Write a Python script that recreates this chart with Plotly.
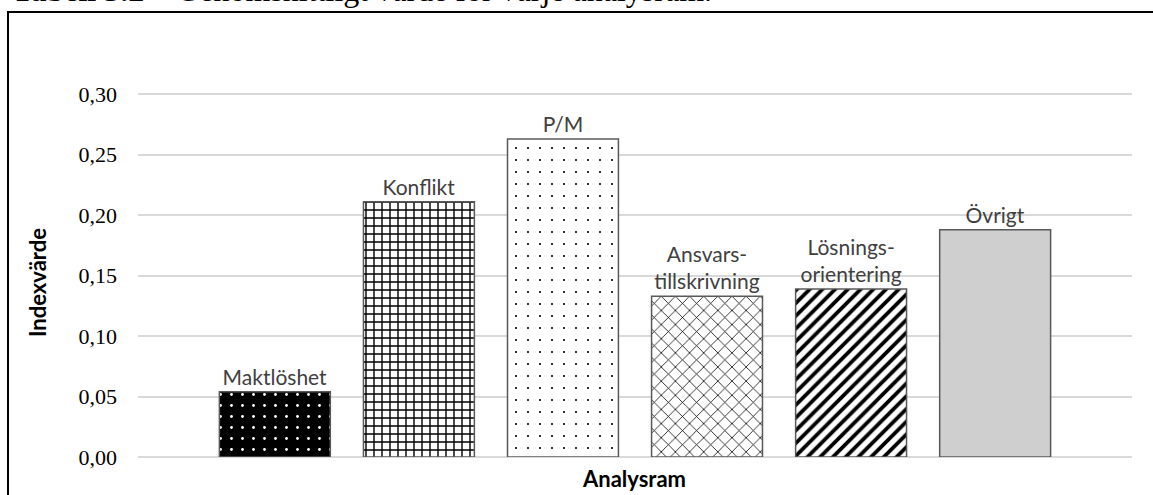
import plotly.graph_objects as go

# --- data -------------------------------------------------------------
categories = ["Maktlöshet", "Konflikt", "P/M", "Ansvars-<br>tillskrivning",
              "Lösnings-<br>orientering", "Övrigt"]
values = [0.054, 0.211, 0.263, 0.133, 0.139, 0.188]
y_ticks = [0.00, 0.05, 0.10, 0.15, 0.20, 0.25, 0.30]

# per-bar fill patterns (Excel style)
pattern_shape = [".", "+", ".", "x", "/", ""]
pattern_size = [11, 8, 12, 10, 9, 8]
pattern_solidity = [0.05, 0.32, 0.025, 0.15, 0.42, 0.3]
pattern_fg = ["white", "black", "black", "black", "black", "black"]
pattern_bg = ["black", "white", "white", "white", "white", "#D0CFD0"]

W, H = 1153, 495
L, R, T, B = 138, 21, 70, 38
plot_w = W - L - R
plot_h = H - T - B

LABEL_FONT = "Lato, 'Open Sans', sans-serif"
SERIF = "'Liberation Serif', 'Times New Roman', serif"


def px_x(px):
    return (px - L) / plot_w


def px_y(py):
    return (H - B - py) / plot_h


fig = go.Figure()
for i, cat in enumerate(categories):
    pattern = dict(
        shape=pattern_shape[i],
        size=pattern_size[i],
        solidity=pattern_solidity[i],
        fgcolor=pattern_fg[i],
        bgcolor=pattern_bg[i],
        fillmode="replace",
    )
    fig.add_trace(
        go.Bar(
            x=[i],
            y=[values[i]],
            width=0.77,
            text=[cat],
            textposition="outside",
            textfont=dict(family=LABEL_FONT, size=21, color="#404040"),
            cliponaxis=False,
            marker=dict(
                color=pattern_bg[i],
                line=dict(color="#595959", width=1.5),
                pattern=pattern,
            ),
            hoverinfo="skip",
        )
    )

fig.update_layout(
    width=W,
    height=H,
    margin=dict(l=L, r=R, t=T, b=B, pad=0),
    paper_bgcolor="white",
    plot_bgcolor="white",
    separators=", ",
    showlegend=False,
    barmode="overlay",
    xaxis=dict(
        range=[-0.95, 5.95],
        showticklabels=False,
        showgrid=False,
        zeroline=False,
        ticks="",
    ),
    yaxis=dict(
        range=[0, 0.32],
        tickvals=y_ticks,
        tickformat=".2f",
        tickfont=dict(family=SERIF, size=22, color="black"),
        ticks="",
        ticklabelstandoff=20,
        showgrid=True,
        gridcolor="#D9D9D9",
        gridwidth=1.5,
        zeroline=True,
        zerolinecolor="#D9D9D9",
        zerolinewidth=1.5,
    ),
    annotations=[
        dict(
            text="<b>Indexvärde</b>",
            textangle=-90,
            xref="paper", yref="paper",
            x=px_x(37), y=px_y(283),
            xanchor="center", yanchor="middle",
            showarrow=False,
            font=dict(family=LABEL_FONT, size=22, color="black"),
        ),
        dict(
            text="<b>Analysram</b>",
            xref="paper", yref="paper",
            x=px_x(634), y=px_y(478),
            xanchor="center", yanchor="middle",
            showarrow=False,
            font=dict(family=LABEL_FONT, size=22, color="black"),
        ),
        dict(
            text="<b>Tabell 5.2</b> – Genomsnittligt värde för varje analysram.",
            xref="paper", yref="paper",
            x=px_x(10), y=px_y(10),
            xanchor="left", yanchor="bottom",
            showarrow=False,
            font=dict(family=SERIF, size=32, color="black"),
        ),
    ],
    shapes=[
        dict(
            type="rect",
            xref="paper", yref="paper",
            x0=px_x(8), x1=px_x(1165),
            y0=px_y(505), y1=px_y(12),
            line=dict(color="black", width=2),
            fillcolor="rgba(0,0,0,0)",
            layer="below",
        ),
    ],
)

fig.write_html(
    "out.html",
    config={"displayModeBar": False},
    post_script="document.body.style.margin='0';",
)
